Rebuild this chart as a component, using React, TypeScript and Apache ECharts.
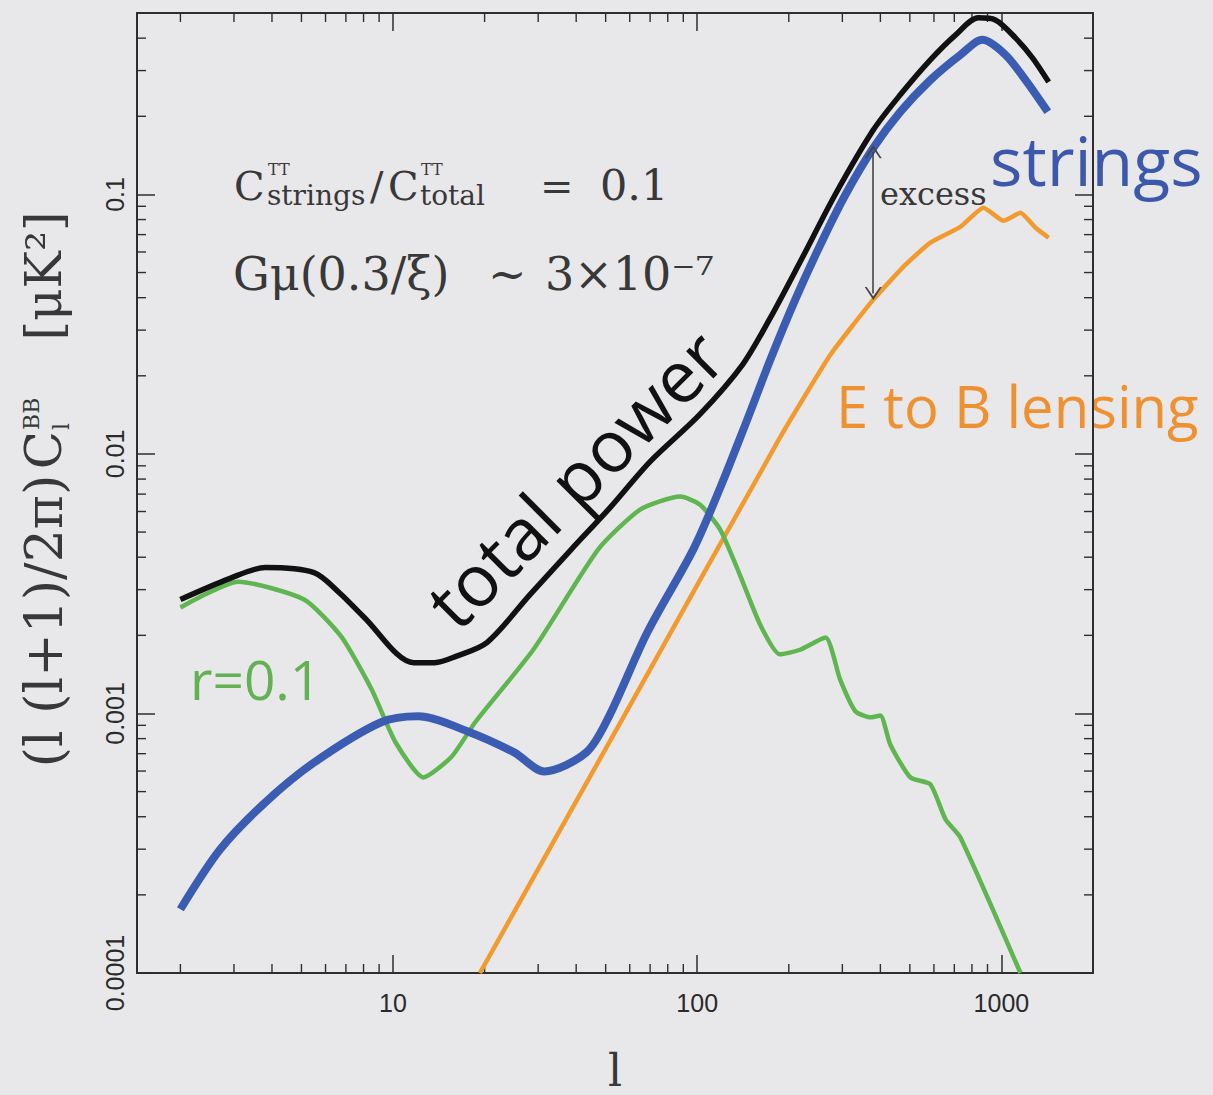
import React, { useEffect, useRef } from 'react';
import * as echarts from 'echarts';

// axis bounds
const xMin = 1.44;
const xMax = 2000;
const yMin = 0.0001;
const yMax = 0.5;

// tick values and labels
const xTickValues = [10, 100, 1000];
const xTickLabels = ['10', '100', '1000'];
const yTickValues = [0.0001, 0.001, 0.01, 0.1];
const yTickLabels = ['0.0001', '0.001', '0.01', '0.1'];
const xMinorTicks = [2, 3, 4, 5, 6, 7, 8, 9, 20, 30, 40, 50, 60, 70, 80, 90, 200, 300, 400, 500, 600, 700, 800, 900];
const yMinorTicks = [
  0.0002, 0.0003, 0.0004, 0.0005, 0.0006, 0.0007, 0.0008, 0.0009,
  0.002, 0.003, 0.004, 0.005, 0.006, 0.007, 0.008, 0.009,
  0.02, 0.03, 0.04, 0.05, 0.06, 0.07, 0.08, 0.09,
  0.2, 0.3, 0.4,
];

// total power (black)
const totalL = [2.0, 2.9, 3.8, 5.5, 6.7, 8.0, 11.7, 13.7, 16.1, 20.4, 28.2, 38.5, 51.7, 70, 102, 141, 174, 218, 284, 379, 465, 584, 706, 840, 955, 1112, 1265, 1430];
const totalC = [0.00275, 0.00331, 0.00365, 0.00349, 0.0029, 0.00236, 0.00157, 0.00157, 0.00166, 0.00188, 0.00287, 0.00428, 0.00621, 0.00934, 0.0142, 0.0221, 0.0335, 0.055, 0.0997, 0.177, 0.242, 0.33, 0.411, 0.479, 0.47, 0.401, 0.336, 0.271];

// strings (blue)
const stringsL = [2.0, 2.7, 3.8, 5.5, 9.1, 12.1, 17.6, 25, 31.4, 43.2, 51.3, 68.5, 97, 119, 144, 174, 210, 254, 307, 379, 465, 584, 733, 866, 1031, 1199, 1420];
const stringsC = [0.000176, 0.000299, 0.000454, 0.000647, 0.000923, 0.000975, 0.000853, 0.000708, 0.000598, 0.000708, 0.000975, 0.00205, 0.00428, 0.00741, 0.013, 0.0231, 0.0393, 0.064, 0.0997, 0.151, 0.208, 0.276, 0.345, 0.394, 0.345, 0.276, 0.208];

// r = 0.1 tensor modes (green)
const tensorL = [2.0, 3.1, 5.1, 6.75, 8.5, 10.2, 12.6, 15.6, 18.6, 28.9, 47.2, 64.9, 87.9, 102, 119, 138, 161, 187, 218, 264, 295, 331, 371, 400, 431, 502, 584, 655, 733, 1155];
const tensorC = [0.00256, 0.00322, 0.00275, 0.00198, 0.00124, 0.000773, 0.000567, 0.000683, 0.000923, 0.00176, 0.00428, 0.0061, 0.00685, 0.00638, 0.00511, 0.00343, 0.0022, 0.00169, 0.00176, 0.00196, 0.00135, 0.00102, 0.000966, 0.000982, 0.00076, 0.000567, 0.000533, 0.000391, 0.000333, 0.0001];

// E to B lensing (orange)
const lensingL = [19.3, 60, 187, 274, 379, 483, 584, 733, 873, 1016, 1155, 1294, 1430];
const lensingC = [0.0001, 0.00107, 0.01155, 0.0241, 0.0393, 0.0535, 0.0652, 0.075, 0.0888, 0.0791, 0.0849, 0.0744, 0.0681];

// "excess" arrow
const excessL = 379;
const excessTop = 0.146;
const excessBottom = 0.0415;

const zip = (xs: number[], ys: number[]) => xs.map((x, i) => [x, ys[i]]);

const serif = '"DejaVu Serif", serif';
const sans = '"Open Sans", sans-serif';
const tickFont = '"Liberation Sans", Arial, sans-serif';
const axisColor = '#2e2e2e';
const annColor = '#383838';

const fmtX = (v: number) => {
  const i = xTickValues.findIndex((t) => Math.abs(v / t - 1) < 0.02);
  return i >= 0 ? xTickLabels[i] : '';
};
const fmtY = (v: number) => {
  const i = yTickValues.findIndex((t) => Math.abs(v / t - 1) < 0.02);
  return i >= 0 ? yTickLabels[i] : '';
};

const minorLen = 9;
const tickStyle = { stroke: axisColor, lineWidth: 1.4 };

function txt(text: string, x: number, y: number, size: number, family: string, fill: string, extra: any = {}) {
  return {
    type: 'text',
    x,
    y,
    silent: true,
    ...extra,
    style: {
      text,
      fontSize: size,
      fontFamily: family,
      fill,
      align: extra.align || 'left',
      textAlign: extra.align || 'left',
      verticalAlign: 'middle',
      textVerticalAlign: 'middle',
    },
  };
}

const chevron = 'path://M0,12 L8,0 L16,12 L14.2,12 L8,3.2 L1.8,12 Z';

export default function App() {
  const ref = useRef<HTMLDivElement>(null);
  useEffect(() => {
    if (!ref.current) return;
    const chart = echarts.init(ref.current, undefined, { renderer: 'svg' });

    const baseX = {
      type: 'log',
      min: xMin,
      max: xMax,
      splitLine: { show: false },
      axisLine: { show: true, lineStyle: { color: axisColor, width: 2 } },
      axisTick: { show: true, inside: true, length: 18, customValues: xTickValues, lineStyle: { color: axisColor, width: 1.5 } },
    };
    const baseY = {
      type: 'log',
      min: yMin,
      max: yMax,
      splitLine: { show: false },
      axisLine: { show: true, lineStyle: { color: axisColor, width: 2 } },
      axisTick: { show: true, inside: true, length: 18, customValues: yTickValues, lineStyle: { color: axisColor, width: 1.5 } },
    };

    const option: any = {
      animation: false,
      backgroundColor: '#e8e8ea',
      textStyle: { fontFamily: tickFont },
      grid: { left: 137, top: 13, width: 956, height: 960, containLabel: false, outerBoundsMode: 'none' },
      xAxis: [
        {
          ...baseX,
          position: 'bottom',
          name: 'l',
          nameLocation: 'middle',
          nameGap: 75,
          nameTextStyle: { fontFamily: serif, fontSize: 44, color: annColor },
          axisLabel: {
            show: true,
            customValues: xTickValues,
            formatter: fmtX,
            margin: 17,
            fontSize: 25,
            fontFamily: tickFont,
            color: '#2a2a2a',
          },
        },
        { ...baseX, position: 'top', axisLabel: { show: false } },
      ],
      yAxis: [
        {
          ...baseY,
          position: 'left',
          axisLabel: {
            show: true,
            customValues: yTickValues,
            formatter: fmtY,
            rotate: 90,
            margin: 10,
            fontSize: 25,
            fontFamily: tickFont,
            color: '#2a2a2a',
          },
        },
        { ...baseY, position: 'right', axisLabel: { show: false } },
      ],
      series: [
        {
          type: 'custom',
          name: 'x minor ticks',
          xAxisIndex: 0,
          yAxisIndex: 0,
          silent: true,
          data: xMinorTicks.map((v) => [v, yMin]),
          renderItem: (_p: any, api: any) => {
            const v = api.value(0);
            const b = api.coord([v, yMin]);
            const t = api.coord([v, yMax]);
            return {
              type: 'group',
              children: [
                { type: 'line', shape: { x1: b[0], y1: b[1], x2: b[0], y2: b[1] - minorLen }, style: tickStyle },
                { type: 'line', shape: { x1: t[0], y1: t[1], x2: t[0], y2: t[1] + minorLen }, style: tickStyle },
              ],
            };
          },
        },
        {
          type: 'custom',
          name: 'y minor ticks',
          xAxisIndex: 0,
          yAxisIndex: 0,
          silent: true,
          data: yMinorTicks.map((v) => [xMin, v]),
          renderItem: (_p: any, api: any) => {
            const v = api.value(1);
            const l = api.coord([xMin, v]);
            const r = api.coord([xMax, v]);
            return {
              type: 'group',
              children: [
                { type: 'line', shape: { x1: l[0], y1: l[1], x2: l[0] + minorLen, y2: l[1] }, style: tickStyle },
                { type: 'line', shape: { x1: r[0], y1: r[1], x2: r[0] - minorLen, y2: r[1] }, style: tickStyle },
              ],
            };
          },
        },
        {
          type: 'line',
          name: 'E to B lensing',
          data: zip(lensingL, lensingC),
          showSymbol: false,
          smooth: 0.15,
          lineStyle: { color: '#f29a2e', width: 4.5 },
          silent: true,
          markLine: {
            silent: true,
            symbol: [chevron, chevron],
            symbolSize: [17, 13],
            lineStyle: { color: '#454545', width: 1.6, type: 'solid' },
            label: { show: false },
            emphasis: { disabled: true },
            data: [[{ coord: [excessL, excessTop] }, { coord: [excessL, excessBottom] }]],
          },
        },
        {
          type: 'line',
          name: 'r=0.1',
          data: zip(tensorL, tensorC),
          showSymbol: false,
          smooth: 0.2,
          lineStyle: { color: '#5fb54f', width: 4.5 },
          silent: true,
        },
        {
          type: 'line',
          name: 'strings',
          data: zip(stringsL, stringsC),
          showSymbol: false,
          smooth: 0.3,
          lineStyle: { color: '#3b5cb3', width: 8 },
          silent: true,
        },
        {
          type: 'line',
          name: 'total power',
          data: zip(totalL, totalC),
          showSymbol: false,
          smooth: 0.3,
          lineStyle: { color: '#111111', width: 5.5 },
          silent: true,
        },
      ],
      graphic: [
        // C^TT_strings / C^TT_total = 0.1
        txt('C', 234, 186, 40, serif, annColor),
        txt('TT', 268, 169, 16, serif, annColor),
        txt('strings', 267, 195, 28, serif, annColor),
        txt('/', 370, 186, 40, serif, annColor),
        txt('C', 388, 186, 40, serif, annColor),
        txt('TT', 421, 169, 16, serif, annColor),
        txt('total', 420, 195, 28, serif, annColor),
        txt('=', 540, 186, 40, serif, annColor),
        txt('0.1', 600, 185, 43, serif, annColor),
        // G mu line
        txt('Gμ(0.3/ξ)', 233, 274, 46, serif, annColor),
        txt('~', 488, 274, 46, serif, annColor),
        txt('3×10⁻⁷', 545, 274, 46, serif, annColor),
        txt('excess', 880, 194, 32, serif, annColor),
        txt('total power', 574, 478, 72, sans, '#111111', { rotation: Math.PI / 4, align: 'center' }),
        txt('strings', 990, 159, 68, sans, '#3c58aa'),
        txt('E to B lensing', 836, 405, 58, sans, '#ef9130'),
        txt('r=0.1', 190, 678, 55, sans, '#62b152'),
        // y-axis title
        {
          type: 'group',
          x: 44,
          y: 773,
          rotation: Math.PI / 2,
          silent: true,
          children: [
            txt('(l (l+1)/2π)', 152, 0, 52, serif, annColor, { align: 'center' }),
            txt('C', 323, 0, 50, serif, annColor, { align: 'center' }),
            txt('BB', 343, -13, 22, serif, annColor),
            txt('l', 343, 17, 22, serif, annColor),
            txt('[μK²]', 497, 0, 50, serif, annColor, { align: 'center' }),
          ],
        },
      ],
    };

    chart.setOption(option);
    return () => chart.dispose();
  }, []);

  return (
    <div
      ref={ref}
      style={{ position: 'absolute', left: 0, top: 0, width: 1213, height: 1095 }}
    />
  );
}
